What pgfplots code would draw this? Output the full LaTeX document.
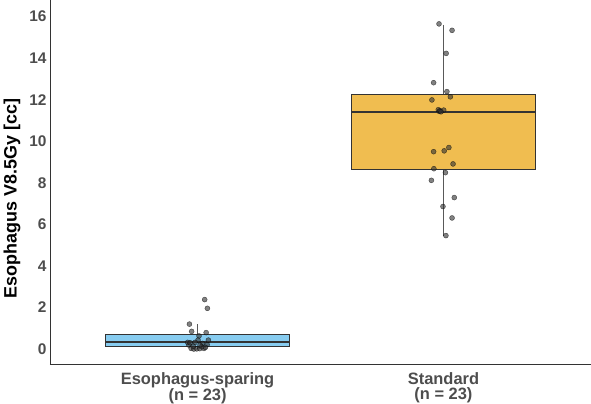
\documentclass[border=0pt]{standalone}
\usepackage{fontspec}
\setmainfont{Liberation Sans}
\usepackage{pgfplots}
\usepackage{pgfplotstable}
\pgfplotsset{compat=1.18}
\usepgfplotslibrary{statistics}
\definecolor{boxblue}{HTML}{87CCF0}
\definecolor{boxorange}{HTML}{F0BD50}
\definecolor{axisgray}{HTML}{333333}
\definecolor{labgray}{HTML}{4D4D4D}
\pgfplotstableread{
x y
0.029 2.38
0.040 1.96
-0.033 1.20
-0.024 0.85
0.035 0.79
0.006 0.63
0.002 0.43
0.044 0.43
-0.040 0.32
-0.010 0.32
0.020 0.27
0.039 0.21
-0.035 0.19
-0.026 0.03
-0.015 0.00
-0.003 0.01
0.009 0.02
0.026 0.03
0.032 0.08
0.017 0.11
-0.018 0.14
0.010 0.19
-0.030 0.30
}\sparing
\pgfplotstableread{
x y
-0.018 15.65
0.035 15.34
0.011 14.23
-0.040 12.82
0.014 12.39
0.028 12.14
-0.047 11.99
-0.021 11.52
-0.017 11.44
0.001 11.50
-0.014 11.47
-0.010 11.42
-0.040 9.50
0.003 9.54
0.022 9.70
0.039 8.91
-0.039 8.68
0.008 8.49
-0.049 8.12
0.044 7.29
-0.002 6.86
0.035 6.31
0.010 5.46
}\standard
\begin{document}
\begin{tikzpicture}
\path[use as bounding box] (-50bp,-40bp) rectangle (541bp,364bp);
\begin{axis}[
 scale only axis, width=541bp, height=364bp,
 at={(0,0)}, anchor=south west,
 xmin=0.4, xmax=2.6, ymin=-0.72, ymax=16.8,
 axis x line*=bottom, axis y line*=left,
 axis line style={draw=axisgray, line width=0.9bp, -},
 xtick={1,2},
 xticklabels={{Esophagus-sparing\\(n = 23)},{Standard\\(n = 23)}},
 ytick={0,2,...,16},
 major tick length=0pt,
 tick style={draw=none},
 /pgf/number format/assume math mode=true,
 xticklabel style={align=center, font=\bfseries\fontsize{16.5}{15}\selectfont, text=labgray, yshift=-5bp},
 yticklabel style={font=\bfseries\fontsize{15.5}{18}\selectfont, text=labgray},
 ylabel={Esophagus V8.5Gy [cc]},
 ylabel style={font=\bfseries\fontsize{18}{20}\selectfont, at={(axis description cs:-0.07,0.455)}, anchor=center},
 clip=false,
 boxplot/draw direction=y,
 boxplot/box extend=0.75,
 boxplot/whisker extend=0,
 boxplot/every median/.style={line width=1.8bp},
 boxplot/every whisker/.style={line width=1bp, draw=black!65},
]
\addplot[draw=axisgray, line width=0.8bp, fill=boxblue,
 boxplot prepared={draw position=1, lower whisker=0, lower quartile=0.11, median=0.32, upper quartile=0.72, upper whisker=1.19}] coordinates {};
\addplot[draw=axisgray, line width=0.8bp, fill=boxorange,
 boxplot prepared={draw position=2, lower whisker=5.46, lower quartile=8.63, median=11.41, upper quartile=12.26, upper whisker=15.61}] coordinates {};
\addplot[only marks, mark=*, mark size=2.5bp, mark options={draw=black, fill=black!80, opacity=0.62}]
 table[x expr=\thisrow{x}+1, y=y] {\sparing};
\addplot[only marks, mark=*, mark size=2.5bp, mark options={draw=black, fill=black!80, opacity=0.62}]
 table[x expr=\thisrow{x}+2, y=y] {\standard};
\end{axis}
\end{tikzpicture}
\end{document}
